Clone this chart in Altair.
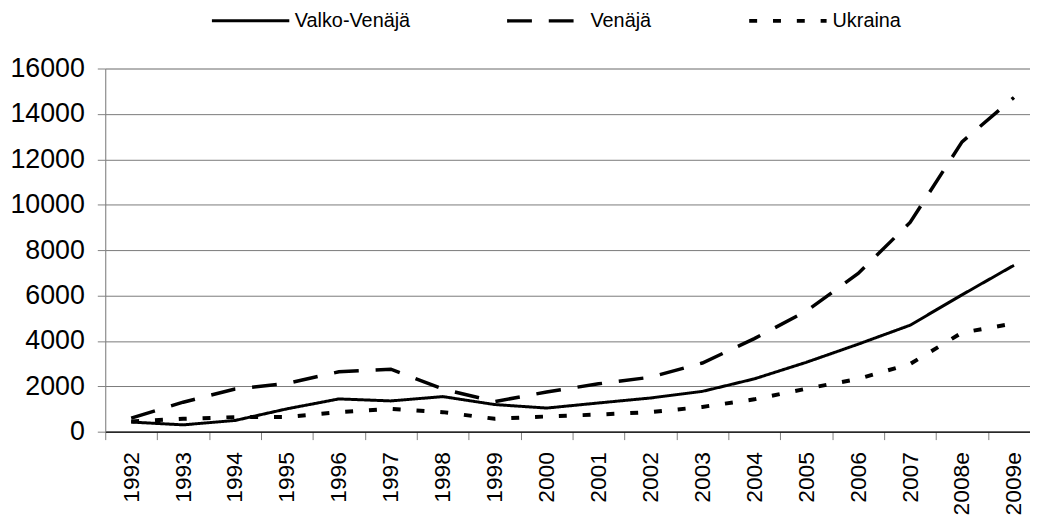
import altair as alt
import pandas as pd

years = ["1992", "1993", "1994", "1995", "1996", "1997", "1998", "1999", "2000",
         "2001", "2002", "2003", "2004", "2005", "2006", "2007", "2008e", "2009e"]
series = ["Valko-Venäjä", "Venäjä", "Ukraina"]
valko = [424, 300, 494, 1006, 1443, 1355, 1545, 1195, 1040, 1265, 1484, 1775,
         2327, 3055, 3855, 4690, 6030, 7330]
venaja = [598, 1298, 1880, 2128, 2636, 2754, 1880, 1325, 1750, 2109, 2400, 3025,
          4100, 5309, 6970, 9217, 12768, 14725]
ukraina = [450, 568, 642, 650, 860, 1005, 860, 568, 670, 756, 858, 1091,
           1425, 1891, 2327, 2982, 4362, 4768]
y_ticks = [0, 2000, 4000, 6000, 8000, 10000, 12000, 14000, 16000]

rows = []
for name, vals in zip(series, [valko, venaja, ukraina]):
    for yr, v in zip(years, vals):
        rows.append({"year": yr, "value": v, "series": name})
df = pd.DataFrame(rows)

legend = alt.Legend(
    title=None, orient="none", direction="horizontal",
    legendX=106, legendY=-89,
    symbolType="stroke", symbolSize=6084, symbolStrokeColor="black",
    labelFont="Liberation Sans", labelFontSize=20,
    labelColor="black", labelOffset=4, columnPadding=90,
)

chart = alt.Chart(df).mark_line(color="black", strokeCap="butt").encode(
    x=alt.X("year:O", sort=years, title=None,
            scale=alt.Scale(type="band", domain=years, range=[0, 942],
                            paddingInner=0, paddingOuter=0),
            axis=alt.Axis(labelAngle=270, labelFontSize=23, labelFont="Liberation Sans",
                          labelColor="black", labelPadding=12, tickSize=8,
                          tickBand="extent", tickColor="#808080",
                          domainColor="black", domainWidth=1.2, grid=False)),
    y=alt.Y("value:Q", title=None,
            scale=alt.Scale(domain=[0, 16000], nice=False, zero=True),
            axis=alt.Axis(values=y_ticks, format="d", labelFontSize=27,
                          labelFont="Liberation Sans", labelColor="black",
                          labelPadding=13, tickSize=8, tickColor="#808080",
                          domainColor="#808080", grid=True, gridColor="#7a7a7a",
                          gridWidth=1)),
    strokeDash=alt.StrokeDash("series:N", sort=series,
                              scale=alt.Scale(domain=series,
                                              range=[[1, 0], [25, 17], [8, 16]]),
                              legend=legend),
    strokeWidth=alt.StrokeWidth("series:N", sort=series,
                                scale=alt.Scale(domain=series, range=[3, 4, 4]),
                                legend=legend),
).properties(
    width=932, height=366,
    autosize=alt.AutoSizeParams(type="none"),
    padding={"left": 98, "top": 59, "right": 0, "bottom": 83},
).configure_view(stroke=None).configure(background="white")

chart.save("out.html", embed_options={"renderer": "svg", "actions": False})
